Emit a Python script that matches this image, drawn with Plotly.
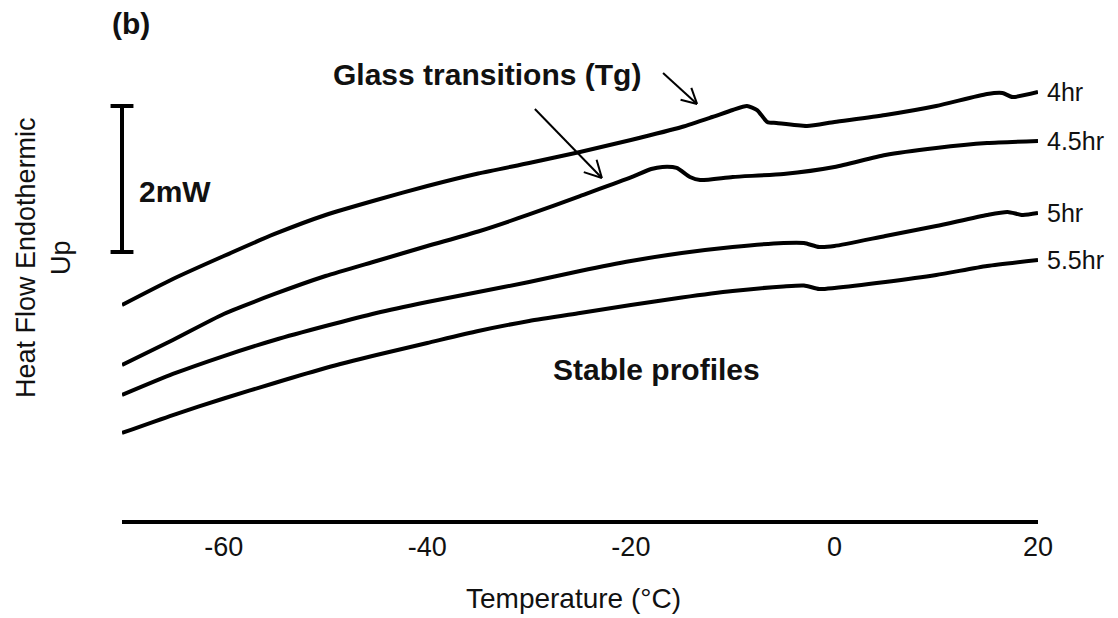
import math
import plotly.graph_objects as go

# DSC heating scans (heat flow in mW, arbitrary offset) vs temperature (°C)
t_4hr = [-70, -65, -60, -55, -50, -45, -40, -35, -30, -25, -20, -15, -12, -10,
         -8.6, -7.6, -6.6, -5.7, -2.7, 0, 5, 10, 15, 16.5, 17.5, 20]
hf_4hr = [4.041, 4.397, 4.712, 5.014, 5.274, 5.479, 5.671, 5.842, 5.986, 6.137,
          6.301, 6.479, 6.616, 6.712, 6.767, 6.712, 6.548, 6.534, 6.493, 6.548,
          6.644, 6.767, 6.932, 6.945, 6.890, 6.959]

t_4_5hr = [-70, -65, -60, -55, -50, -45, -40, -35, -30, -25, -20, -18, -16.9,
           -15.5, -14.2, -13.2, -10, -5, 0, 5, 10, 15, 20]
hf_4_5hr = [3.219, 3.562, 3.918, 4.192, 4.438, 4.644, 4.849, 5.048, 5.281, 5.534,
            5.788, 5.904, 5.932, 5.918, 5.795, 5.753, 5.795, 5.836, 5.932, 6.096,
            6.192, 6.260, 6.288]

t_5hr = [-70, -65, -60, -55, -50, -45, -40, -35, -30, -25, -20, -15, -10, -5,
         -3, -1.5, 0, 5, 10, 15, 17, 18.5, 20]
hf_5hr = [2.808, 3.096, 3.342, 3.562, 3.753, 3.932, 4.082, 4.219, 4.356, 4.507,
          4.644, 4.753, 4.836, 4.890, 4.890, 4.836, 4.849, 4.986, 5.123, 5.274,
          5.315, 5.274, 5.301]

t_5_5hr = [-70, -65, -60, -55, -50, -45, -40, -35, -30, -25, -20, -15, -10, -5,
           -3, -1.5, 0, 5, 10, 15, 20]
hf_5_5hr = [2.288, 2.534, 2.760, 2.973, 3.178, 3.356, 3.521, 3.685, 3.822, 3.932,
            4.041, 4.144, 4.233, 4.295, 4.308, 4.260, 4.274, 4.356, 4.452, 4.575,
            4.658]

series_names = ["4hr", "4.5hr", "5hr", "5.5hr"]
series_t = [t_4hr, t_4_5hr, t_5hr, t_5_5hr]
series_hf = [hf_4hr, hf_4_5hr, hf_5hr, hf_5_5hr]

x_ticks = [-60, -40, -20, 0, 20]
scale_bar_mw = 2.0
scale_bar_top = 6.767

FONT = "Liberation Sans, Arial, sans-serif"
INK = "#111111"

fig = go.Figure()

for name, t, hf in zip(series_names, series_t, series_hf):
    fig.add_trace(go.Scatter(
        x=t, y=hf, mode="lines", name=name,
        line=dict(color="black", width=4, shape="spline", smoothing=0.6),
        hoverinfo="skip", showlegend=False,
    ))
    # series label at the right-hand end of each scan
    fig.add_annotation(
        x=t[-1], y=hf[-1], xref="x", yref="y", text=name, showarrow=False,
        xanchor="left", yanchor="middle", xshift=7,
        font=dict(family=FONT, size=25, color=INK),
    )

shapes = []

# 2 mW scale bar
bar_x = 0.0
cap_half = 0.0125
shapes.append(dict(type="line", xref="paper", yref="y",
                   x0=bar_x, x1=bar_x, y0=scale_bar_top, y1=scale_bar_top - scale_bar_mw,
                   line=dict(color="black", width=4)))
for yy in (scale_bar_top, scale_bar_top - scale_bar_mw):
    shapes.append(dict(type="line", xref="paper", yref="y",
                       x0=bar_x - cap_half, x1=bar_x + cap_half, y0=yy, y1=yy,
                       line=dict(color="black", width=4)))


def open_arrow(x_head, y_head, dx, dy, head_len=16, width=2):
    """Thin arrow with an open V head; dx, dy = tail offset in screen pixels."""
    out = []
    base = dict(type="line", xref="x", yref="y", xsizemode="pixel", ysizemode="pixel",
                xanchor=x_head, yanchor=y_head, line=dict(color="black", width=width))
    # shaft (pixel y offsets point upwards in shape coordinates)
    out.append(dict(base, x0=0, y0=0, x1=dx, y1=-dy))
    length = math.hypot(dx, dy)
    ux, uy = dx / length, dy / length
    for ang in (math.radians(28), math.radians(-28)):
        rx = ux * math.cos(ang) - uy * math.sin(ang)
        ry = ux * math.sin(ang) + uy * math.cos(ang)
        out.append(dict(base, x0=0, y0=0, x1=rx * head_len, y1=-ry * head_len))
    return out


shapes += open_arrow(-13.5, 6.795, -34, -31, head_len=17)
shapes += open_arrow(-22.85, 5.781, -67, -69, head_len=19)

fig.update_layout(
    width=1118, height=618,
    margin=dict(l=122, r=80, t=40, b=98),
    paper_bgcolor="white", plot_bgcolor="white",
    font=dict(family=FONT, color=INK),
    shapes=shapes,
    xaxis=dict(
        range=[-70, 20], showgrid=False, zeroline=False,
        showline=True, linecolor="black", linewidth=4,
        ticks="", tickvals=x_ticks, ticktext=[str(v) for v in x_ticks],
        tickfont=dict(family=FONT, size=27, color=INK),
        automargin=False,
    ),
    yaxis=dict(range=[1.096, 7.671], visible=False),
)

fig.add_annotation(text="Temperature (°C)", xref="paper", yref="paper",
                   x=(573 - 122) / 916, y=-0.1625, xanchor="center", yanchor="middle",
                   showarrow=False, font=dict(family=FONT, size=28, color=INK))
fig.add_annotation(text="<b>(b)</b>", xref="paper", yref="paper", x=-0.013, y=1.035,
                   xanchor="left", yanchor="middle", showarrow=False,
                   font=dict(family=FONT, size=30, color=INK))
fig.add_annotation(text="<b>2mW</b>", xref="paper", yref="y", x=0.0164, y=5.60,
                   xanchor="left", yanchor="middle", showarrow=False,
                   font=dict(family=FONT, size=30, color=INK))
fig.add_annotation(text="<b>Glass transitions (Tg)</b>", xref="paper", yref="paper",
                   x=(643 - 122) / 916, y=(520 - 75) / 480,
                   xanchor="right", yanchor="middle", showarrow=False,
                   font=dict(family=FONT, size=30, color=INK))
fig.add_annotation(text="<b>Stable profiles</b>", xref="x", yref="y", x=-17.5, y=3.151,
                   xanchor="center", yanchor="middle", showarrow=False,
                   font=dict(family=FONT, size=30, color=INK))
fig.add_annotation(text="Heat Flow Endothermic<br>Up", xref="paper", yref="paper",
                   x=(43 - 122) / 916, y=(520 - 258) / 480, textangle=-90,
                   xanchor="center", yanchor="middle", showarrow=False,
                   font=dict(family=FONT, size=27, color=INK))

fig.write_html("out.html")
